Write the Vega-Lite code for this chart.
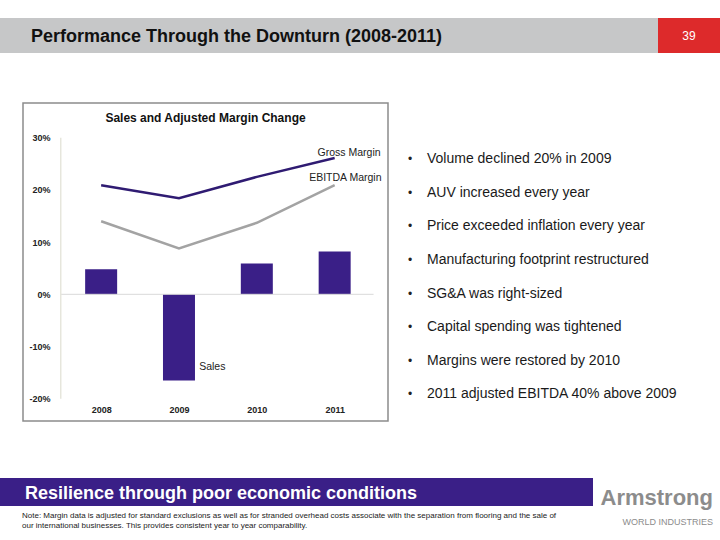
{
  "$schema": "https://vega.github.io/schema/vega-lite/v6.json",
  "background": "white",
  "padding": {"left": 0, "top": 18, "right": 0, "bottom": 0},
  "spacing": 0,
  "bounds": "full",
  "config": {
    "view": {"stroke": null},
    "font": "Liberation Sans",
    "title": {"font": "Liberation Sans"},
    "text": {"font": "Liberation Sans"},
    "axis": {"grid": false, "domain": false, "ticks": false}
  },
  "vconcat": [
    {
      "hconcat": [
        {
          "width": 658,
          "height": 35,
          "view": {"fill": "#c6c7c8", "stroke": null},
          "data": {"values": []},
          "mark": "rect",
          "title": {
            "text": "Performance Through the Downturn (2008-2011)",
            "orient": "bottom",
            "anchor": "start",
            "frame": "group",
            "offset": -24.9,
            "dx": 31,
            "fontSize": 18,
            "fontWeight": "bold",
            "color": "#111111"
          }
        },
        {
          "width": 62,
          "height": 35,
          "view": {"fill": "#dd2a2b", "stroke": null},
          "data": {"values": [{"page": "39"}]},
          "mark": {"type": "text", "color": "white", "fontSize": 12, "baseline": "middle"},
          "encoding": {"text": {"field": "page"}}
        }
      ],
      "spacing": 0,
      "bounds": "flush"
    },
    {"width": 720, "height": 49, "data": {"values": []}, "mark": "rect"},
    {
      "hconcat": [
        {"width": 23, "height": 318, "data": {"values": []}, "mark": "rect"},
        {
          "width": 365,
          "height": 318,
          "view": {"stroke": "#8c8c8c", "strokeWidth": 1.5, "fill": "white"},
          "title": {
            "text": "Sales and Adjusted Margin Change",
            "anchor": "middle",
            "frame": "group",
            "offset": -21.5,
            "fontSize": 12,
            "fontWeight": "bold",
            "color": "#111111"
          },
          "data": {
            "values": [
              {"year": 2008, "sales": 0.048, "gross": 0.209, "ebitda": 0.140},
              {"year": 2009, "sales": -0.165, "gross": 0.184, "ebitda": 0.088},
              {"year": 2010, "sales": 0.059, "gross": 0.225, "ebitda": 0.137},
              {"year": 2011, "sales": 0.082, "gross": 0.261, "ebitda": 0.209}
            ]
          },
          "layer": [
            {
              "mark": {"type": "bar", "width": 32, "color": "#3a1f87"},
              "encoding": {
                "x": {
                  "field": "year",
                  "type": "quantitative",
                  "scale": {"domain": [2007.0603, 2011.621], "nice": false, "zero": false},
                  "axis": {
                    "values": [2008, 2009, 2010, 2011],
                    "format": "d",
                    "orient": "bottom",
                    "offset": -20,
                    "labelPadding": 4,
                    "labelFlush": false,
                    "domain": false,
                    "ticks": false,
                    "grid": false,
                    "title": null,
                    "labelFontSize": 9,
                    "labelFontWeight": "bold",
                    "labelColor": "#222222"
                  }
                },
                "y": {
                  "field": "sales",
                  "type": "quantitative",
                  "scale": {"domain": [-0.2427, 0.3665], "nice": false, "zero": false},
                  "axis": {
                    "values": [-0.2, -0.1, 0, 0.1, 0.2, 0.3],
                    "format": ".0%",
                    "labelExpr": "replace(datum.label, '\u2212', '-')",
                    "orient": "left",
                    "offset": -34,
                    "labelPadding": 7,
                    "labelFlush": false,
                    "domain": false,
                    "ticks": false,
                    "grid": false,
                    "title": null,
                    "labelFontSize": 9,
                    "labelFontWeight": "bold",
                    "labelColor": "#222222"
                  }
                },
                "y2": {"datum": 0}
              }
            },
            {
              "data": {"values": [{}]},
              "mark": {"type": "rule", "color": "#d9d9d9", "strokeWidth": 1},
              "encoding": {
                "x": {"datum": 2007.481, "type": "quantitative"},
                "x2": {"datum": 2011.5},
                "y": {"datum": 0, "type": "quantitative"}
              }
            },
            {
              "data": {"values": [{}]},
              "mark": {"type": "rule", "color": "#e6e6dc", "strokeWidth": 1.5},
              "encoding": {
                "x": {"datum": 2007.481, "type": "quantitative"},
                "y": {"datum": -0.2, "type": "quantitative"},
                "y2": {"datum": 0.3}
              }
            },
            {
              "mark": {"type": "line", "color": "#2f1b72", "strokeWidth": 2.5},
              "encoding": {
                "x": {"field": "year", "type": "quantitative"},
                "y": {"field": "gross", "type": "quantitative"}
              }
            },
            {
              "mark": {"type": "line", "color": "#a3a3a3", "strokeWidth": 2.5},
              "encoding": {
                "x": {"field": "year", "type": "quantitative"},
                "y": {"field": "ebitda", "type": "quantitative"}
              }
            },
            {
              "data": {"values": [{}]},
              "mark": {"type": "text", "align": "left", "baseline": "middle", "fontSize": 10.5, "color": "#222222", "clip": true},
              "encoding": {
                "x": {"datum": 2010.78, "type": "quantitative"},
                "y": {"datum": 0.27, "type": "quantitative"},
                "text": {"value": "Gross Margin"}
              }
            },
            {
              "data": {"values": [{}]},
              "mark": {"type": "text", "align": "left", "baseline": "middle", "fontSize": 10.5, "color": "#222222", "clip": true},
              "encoding": {
                "x": {"datum": 2010.672, "type": "quantitative"},
                "y": {"datum": 0.222, "type": "quantitative"},
                "text": {"value": "EBITDA Margin"}
              }
            },
            {
              "data": {"values": [{}]},
              "mark": {"type": "text", "align": "left", "baseline": "middle", "fontSize": 10.5, "color": "#222222", "clip": true},
              "encoding": {
                "x": {"datum": 2009.259, "type": "quantitative"},
                "y": {"datum": -0.1387, "type": "quantitative"},
                "text": {"value": "Sales"}
              }
            }
          ]
        },
        {"width": 22, "height": 318, "data": {"values": []}, "mark": "rect"},
        {
          "width": 17,
          "height": 318,
          "data": {
            "values": [
              {"n": 1, "point": "Volume declined 20% in 2009"},
              {"n": 2, "point": "AUV increased every year"},
              {"n": 3, "point": "Price exceeded inflation every year"},
              {"n": 4, "point": "Manufacturing footprint restructured"},
              {"n": 5, "point": "SG&A was right-sized"},
              {"n": 6, "point": "Capital spending was tightened"},
              {"n": 7, "point": "Margins were restored by 2010"},
              {"n": 8, "point": "2011 adjusted EBITDA 40% above 2009"}
            ]
          },
          "encoding": {
            "y": {
              "field": "n",
              "type": "ordinal",
              "scale": {"type": "point", "padding": 0, "range": [56.3, 291.3]},
              "axis": null
            }
          },
          "layer": [
            {
              "mark": {"type": "text", "align": "center", "baseline": "middle", "fontSize": 12, "color": "#222222"},
              "encoding": {
                "x": {
                  "datum": "marker",
                  "type": "nominal",
                  "scale": {"type": "point", "domain": ["marker", "item"], "padding": 0},
                  "axis": null
                },
                "text": {"value": "•"}
              }
            },
            {
              "mark": {"type": "text", "align": "left", "baseline": "middle", "fontSize": 14, "color": "#1a1a1a"},
              "encoding": {
                "x": {"datum": "item", "type": "nominal", "axis": null},
                "text": {"field": "point"}
              }
            }
          ]
        }
      ],
      "spacing": 0,
      "bounds": "flush"
    },
    {"width": 720, "height": 56, "data": {"values": []}, "mark": "rect"},
    {
      "hconcat": [
        {
          "vconcat": [
            {
              "width": 593,
              "height": 28,
              "view": {"fill": "#3a1f87", "stroke": null},
              "data": {"values": []},
              "mark": "rect",
              "title": {
                "text": "Resilience through poor economic conditions",
                "orient": "bottom",
                "anchor": "start",
                "frame": "group",
                "offset": -21.5,
                "dx": 25,
                "fontSize": 18,
                "fontWeight": "bold",
                "color": "white"
              }
            },
            {
              "width": 593,
              "height": 36,
              "data": {"values": []},
              "mark": "rect",
              "title": {
                "text": [
                  "Note: Margin data is adjusted for standard exclusions as well as for stranded overhead costs associate with the separation from flooring and the sale of",
                  "our international businesses.  This provides consistent year to year comparability."
                ],
                "orient": "bottom",
                "anchor": "start",
                "frame": "group",
                "offset": -30,
                "dx": 22,
                "fontSize": 8,
                "lineHeight": 10,
                "fontWeight": "normal",
                "color": "#222222"
              }
            }
          ],
          "spacing": 0,
          "bounds": "flush"
        },
        {
          "width": 127,
          "height": 64,
          "data": {"values": []},
          "mark": "rect",
          "title": {
            "text": "Armstrong",
            "subtitle": "WORLD INDUSTRIES",
            "orient": "bottom",
            "anchor": "end",
            "frame": "group",
            "offset": -54.4,
            "dx": -7,
            "fontSize": 22,
            "fontWeight": "bold",
            "color": "#8c8c8c",
            "subtitleFontSize": 9,
            "subtitleColor": "#8c8c8c",
            "subtitleFont": "Liberation Sans",
            "subtitlePadding": 8
          }
        }
      ],
      "spacing": 0,
      "bounds": "full"
    }
  ]
}
